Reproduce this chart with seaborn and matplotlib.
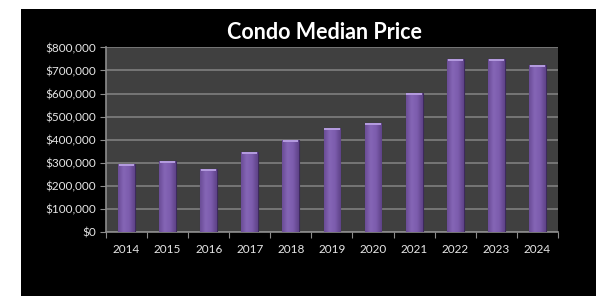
import matplotlib
matplotlib.use("Agg")
import matplotlib.pyplot as plt
import numpy as np
from matplotlib.colors import LinearSegmentedColormap
from matplotlib.patches import Rectangle
from matplotlib.ticker import FuncFormatter, MultipleLocator
import seaborn as sns

# data
years = ["2014", "2015", "2016", "2017", "2018", "2019", "2020", "2021", "2022", "2023", "2024"]
prices = [295000, 307000, 272000, 346000, 399000, 451000, 472000, 604000, 751000, 751000, 725000]

sns.set_style("dark")
plt.rcParams["font.family"] = ["Lato", "DejaVu Sans"]

fig = plt.figure(figsize=(6.13, 3.06), dpi=100, facecolor="white")
# black chart box inside white margin
fig.patches.append(Rectangle((0.0343, 0.0327), 0.938, 0.938, transform=fig.transFigure,
                             facecolor="black", edgecolor="none", zorder=-1))

ax = fig.add_axes([0.173, 0.242, 0.737, 0.603])
ax.set_zorder(2)
ax.set_facecolor("#404040")

sns.barplot(x=years, y=prices, color="#7b5aa9", width=0.41, ax=ax,
            edgecolor="#3d2a5c", linewidth=0.8, saturation=1, zorder=3)

# glassy shading across each bar + lighter cap
shade = LinearSegmentedColormap.from_list("bar", ["#6a4c96", "#8566b6", "#7c5cad", "#5e4287"])
grad = np.linspace(0, 1, 64).reshape(1, -1)
for p in list(ax.patches):
    x0, w, h = p.get_x(), p.get_width(), p.get_height()
    im = ax.imshow(grad, cmap=shade, aspect="auto", extent=(x0, x0 + w, 0, h),
                   zorder=3.5, interpolation="bicubic")
    im.set_clip_path(p)
    ax.add_patch(Rectangle((x0 + 0.02, h - 9500), w - 0.04, 8500,
                           facecolor="#b39ade", edgecolor="none", zorder=4))

ax.set_ylim(0, 800000)
ax.set_xlim(-0.5, len(years) - 0.5)
ax.yaxis.set_major_locator(MultipleLocator(100000))
ax.yaxis.set_major_formatter(FuncFormatter(lambda v, _: f"${v:,.0f}"))
ax.grid(axis="y", color="#7a7a7a", linewidth=1.3, zorder=1)
ax.grid(axis="x", visible=False)

for s in ["top", "right"]:
    ax.spines[s].set_visible(False)
for s in ["left", "bottom"]:
    ax.spines[s].set_visible(True)
    ax.spines[s].set_color("#8c8c8c")
    ax.spines[s].set_linewidth(1.2)

# category boundary ticks on x, labels at centres
ax.set_xticks([i - 0.5 for i in range(len(years) + 1)], minor=False)
ax.set_xticklabels([])
ax.set_xticks(range(len(years)), minor=True)
ax.set_xticklabels(years, minor=True)
ax.tick_params(axis="x", which="major", length=4, color="#8c8c8c", direction="out", bottom=True)
ax.tick_params(axis="x", which="minor", length=0, pad=9, labelsize=8.5, labelcolor="#e6e6e6")
ax.tick_params(axis="y", length=4, color="#8c8c8c", direction="out", pad=3,
               labelsize=8.5, labelcolor="#e6e6e6", left=True)
ax.set_xlabel("")
ax.set_ylabel("")

fig.text(0.53, 0.895, "Condo Median Price", ha="center", va="center",
         color="white", fontsize=15.5, fontweight="bold", zorder=3)

fig.savefig("out.png", dpi=100, facecolor="white")
